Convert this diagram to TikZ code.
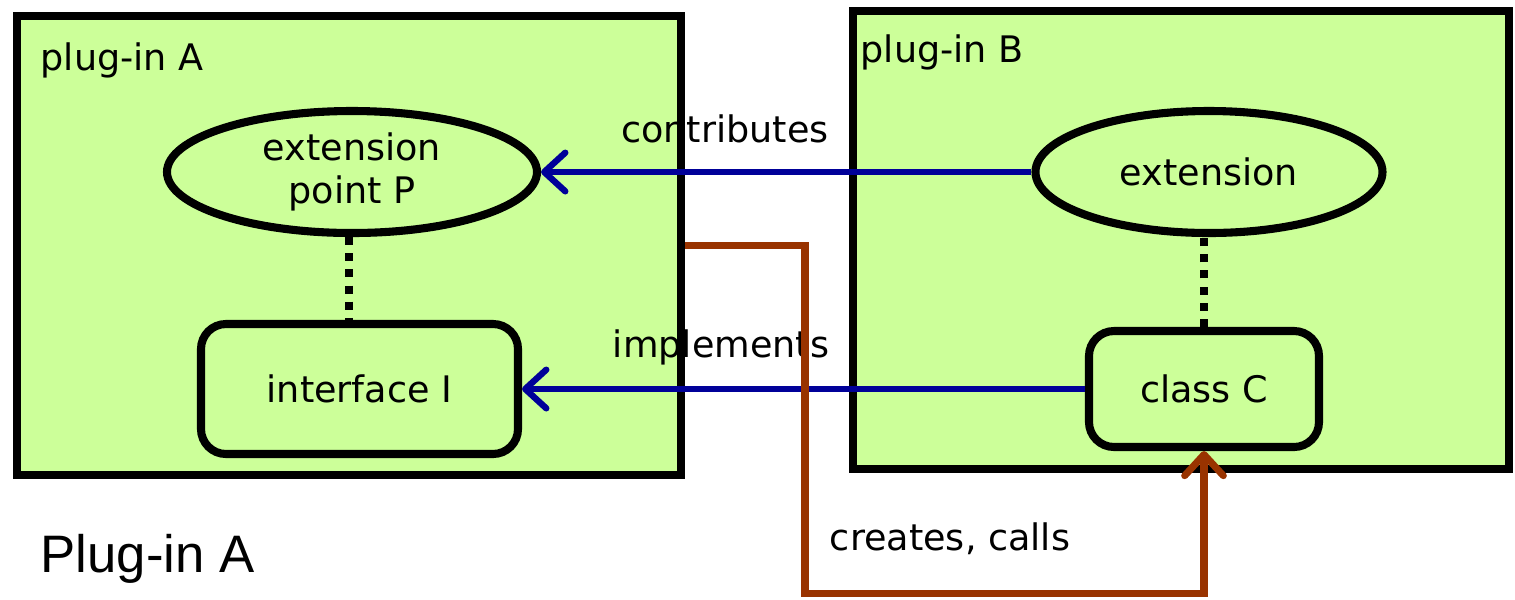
\documentclass[tikz,border=0pt]{standalone}
\usepackage{fontspec}
\setmainfont{DejaVu Sans}
\newfontfamily\slidefont{Liberation Sans}
\usetikzlibrary{arrows.meta,shapes.geometric}

\definecolor{plugfill}{HTML}{CCFF99}
\definecolor{linkblue}{HTML}{000099}
\definecolor{callbrown}{HTML}{993300}

\begin{document}
\begin{tikzpicture}[
    >={Straight Barb[length=6pt,width=11pt,round]},
    every node/.style={font=\fontsize{10.4}{12.2}\selectfont},
    plugin/.style={fill=plugfill, inner sep=0pt, outer sep=0pt},
    tag/.style={inner sep=0pt},
    frame/.style={line width=2.3pt},
    extpoint/.style={ellipse, draw, fill=plugfill, line width=2.3pt, inner sep=0pt, align=center},
    codebox/.style={rectangle, rounded corners=0.25cm, draw, fill=plugfill, line width=2.3pt, inner sep=0pt},
    tie/.style={line width=2.3pt, dash pattern=on 2.3pt off 2.3pt},
    link/.style={->, line width=1.8pt, linkblue},
    call/.style={->, line width=2pt, callbrown}]
    \useasboundingbox (0,0) rectangle (15.15,5.99);

    % the two plug-ins
    \node[plugin, minimum width=6.64cm, minimum height=4.59cm] (boxA) at (3.49,3.535) {};
    \node[plugin, minimum width=6.56cm, minimum height=4.58cm] (boxB) at (11.81,3.59) {};
    \node[tag, anchor=base west] (nameA) at (0.40,5.29) {plug-in A};
    \node[tag, anchor=base west] (nameB) at (8.60,5.37) {plug-in B};

    \node[tag, anchor=base] (contrib) at (7.25,4.57) {contributes};
    \node[tag, anchor=base] (impl) at (7.21,2.42) {implements};
    \node[tag, anchor=base] (creates) at (9.50,0.49) {creates, calls};

    \draw[frame] (boxA.south west) rectangle (boxA.north east);
    \draw[frame] (boxB.south west) rectangle (boxB.north east);

    % plug-in A contents
    \node[extpoint, minimum width=3.70cm, minimum height=1.22cm] (P) at (3.52,4.27) {extension\\point P};
    \node[codebox, minimum width=3.17cm, minimum height=1.30cm] (iface) at (3.595,2.10) {interface I};
    \draw[tie] (3.49,0 |- P.south) -- (3.49,0 |- iface.north);

    % plug-in B contents
    \node[extpoint, minimum width=3.47cm, minimum height=1.22cm] (ext) at (12.09,4.27) {extension};
    \node[codebox, minimum width=2.30cm, minimum height=1.16cm] (cls) at (12.04,2.10) {class C};
    \draw[tie] (cls.north) -- (cls.north |- ext.south);

    % links between the plug-ins
    \draw[link] (ext.west) -- (ext.west -| P.east);
    \draw[link] (cls.west) -- (cls.west -| iface.east);
    \coordinate (turn) at (8.05,0.06);
    \draw[call] ([xshift=1.2pt]boxA.east) -| (turn) -| (cls.south);

    \node[tag, anchor=base west, font=\slidefont\fontsize{15}{18}\selectfont] (title) at (0.40,0.27) {Plug-in A};
\end{tikzpicture}
\end{document}
